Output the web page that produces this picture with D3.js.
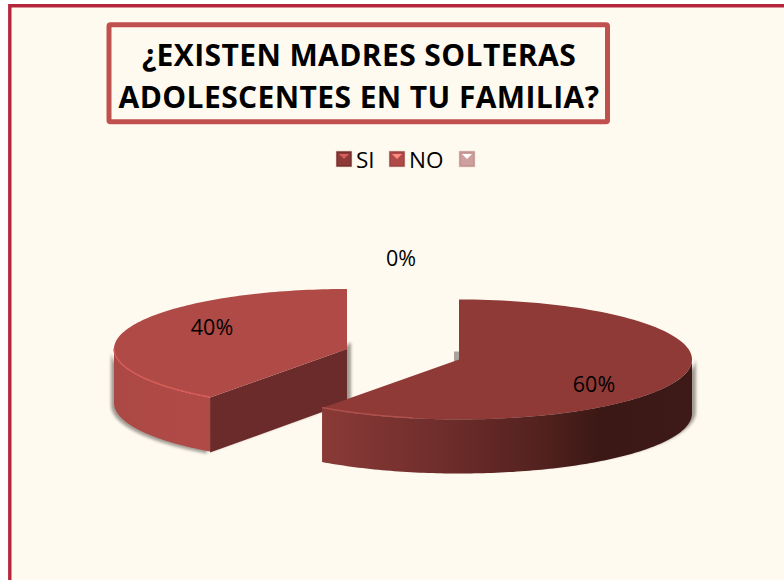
<!DOCTYPE html>
<html><head><meta charset="utf-8">
<script src="https://cdn.jsdelivr.net/npm/d3@7"></script>
<style>html,body{margin:0;padding:0;background:#fff}svg{display:block}</style>
</head><body><svg id="c" width="784" height="580"></svg>
<script>
const categories = ["SI", "NO", ""];
const values = [60, 40, 0];
const labels = ["60%", "40%", "0%"];
const titleLines = ["¿EXISTEN MADRES SOLTERAS", "ADOLESCENTES EN TU FAMILIA?"];

const svg = d3.select("#c");
const defs = svg.append("defs");
const BG = "#fffaf0";
svg.append("rect").attr("x",10).attr("y",6).attr("width",774).attr("height",574).attr("fill",BG);
svg.append("path").attr("d","M9.8,580V5.7H784").attr("fill","none").attr("stroke","#b5263a").attr("stroke-width",3.4);

// title
svg.append("rect").attr("x",109).attr("y",24.8).attr("width",498.5).attr("height",97).attr("rx",1.5)
  .attr("fill",BG).attr("stroke","#c0504d").attr("stroke-width",5);
svg.selectAll("text.title").data(titleLines).join("text").attr("class","title")
  .attr("x",359).attr("y",(d,i)=>i===0?65.5:107.5).attr("text-anchor","middle")
  .attr("font-family","'Open Sans',sans-serif").attr("font-weight",700).attr("font-size",30)
  .attr("letter-spacing",0.4).attr("fill","#000").text(d=>d);

// legend
const legendColors = ["#8f3a37","#b04a46","#cf9f9d"];
const legendEdge = ["#7a3230","#a04341","#c29391"];
const legendHi = ["#d8605c","#ff8a84","#ffffff"];
const legendX = [336,389,459];
const lg = svg.selectAll("g.lg").data(categories).join("g").attr("class","lg")
  .attr("transform",(d,i)=>`translate(${legendX[i]},151)`);
lg.append("rect").attr("width",16).attr("height",16).attr("fill",(d,i)=>legendEdge[i]).attr("stroke","#e8d6cc").attr("stroke-width",0.6);
lg.append("path").attr("d","M2,2H14V14H2Z").attr("fill",(d,i)=>legendColors[i]);
lg.append("path").attr("d","M3,3H13L8,8Z").attr("fill",(d,i)=>legendHi[i]);
lg.append("text").attr("x",20).attr("y",16.5).attr("font-family","'Open Sans',sans-serif").attr("font-size",22.5).attr("fill","#000").text(d=>d);

// pie
const pie = d3.pie().sort(null).value(d=>d);
const arcs = pie(values);
const rx = 233, ry = 60, depth = 54;
const centers = [[459,359.5],[347,349],[403,320]];
const sx = d3.scaleLinear().domain([-1,1]).range([-rx,rx]);
const sy = d3.scaleLinear().domain([-1,1]).range([-ry,ry]);
const pt = (a,c,dy=0)=>[c[0]+sx(Math.sin(a)), c[1]-sy(Math.cos(a))+dy];
const angles = (a0,a1,n=120)=>d3.range(n+1).map(i=>a0+(a1-a0)*i/n);
const line = d3.line();

const blur = defs.append("filter").attr("id","sh").attr("x","-10%").attr("y","-10%").attr("width","120%").attr("height","130%");
blur.append("feGaussianBlur").attr("stdDeviation",1.4);
const bl2 = defs.append("filter").attr("id","sf").attr("x","-10%").attr("y","-50%").attr("width","120%").attr("height","200%");
bl2.append("feGaussianBlur").attr("stdDeviation",0.6);

function grad(id,stops,x1,x2){
  const g = defs.append("linearGradient").attr("id",id).attr("gradientUnits","userSpaceOnUse")
    .attr("x1",x1).attr("x2",x2).attr("y1",0).attr("y2",0);
  stops.forEach(s=>g.append("stop").attr("offset",s[0]).attr("stop-color",s[1]));
}
grad("g0",[[0,"#8a3a37"],[0.35,"#6c2c2a"],[0.58,"#54221f"],[0.75,"#3b1815"],[1,"#3d1a17"]],322,692);
grad("g1",[[0,"#a84845"],[0.12,"#ad4945"],[1,"#b04a46"]],114,210);

// NO slice is drawn first, it sits behind the SI slice
const order = [1,0];
const sideFill = ["url(#g0)","url(#g1)"];
const topFill = ["#8f3a37","#b04a46"];
const rim = ["#b0504c","#d85a56"];
const shadowDx = [4,-3];

order.forEach(i=>{
  const d = arcs[i], c = centers[i];
  const a0 = Math.max(d.startAngle,Math.PI/2), a1 = Math.min(d.endAngle,1.5*Math.PI);
  const front = angles(a0,a1);
  const topEdge = front.map(a=>pt(a,c));
  const botEdge = front.map(a=>pt(a,c,depth)).reverse();
  svg.append("path").attr("d",line([...topEdge,...botEdge].map(p=>[p[0]+shadowDx[i],p[1]+(i?2:-2)]))+"Z")
    .attr("fill","#55504a").attr("opacity",0.55).attr("filter","url(#sh)");
  if(i===1){ // cut face of the NO slice
    const pe=pt(d.startAngle,c);
    svg.append("path").attr("d",line([[c[0]+4,c[1]-7],[c[0]+4,c[1]+depth-2],[pe[0],pe[1]+depth]])+"Z")
      .attr("fill","#55504a").attr("opacity",0.55).attr("filter","url(#sh)");
    svg.append("path").attr("d",line([c,[c[0],c[1]+depth],[pe[0],pe[1]+depth+1],pe])+"Z").attr("fill","#6b2b2a");
  } else {
    svg.append("path").attr("d",line([[c[0]-5,c[1]-8],[c[0],c[1]-8],[c[0],c[1]+2],[c[0]-5,c[1]+2]])+"Z")
      .attr("fill","#55504a").attr("opacity",0.5).attr("filter","url(#sf)");
  }
  svg.append("path").attr("d",line([...topEdge,...botEdge])+"Z").attr("fill",sideFill[i]);
  const top = [c,...angles(d.startAngle,d.endAngle).map(a=>pt(a,c))];
  svg.append("path").attr("d",line(top)+"Z").attr("fill",topFill[i]);
  const rimPts = angles(i===0?d.endAngle:Math.PI*1.5, i===0?Math.PI+0.2:d.startAngle).map(a=>{const p=pt(a,c);return [p[0],p[1]-0.5];});
  svg.append("path").attr("d",line(rimPts)).attr("fill","none").attr("stroke",rim[i]).attr("stroke-width",1.4).attr("filter","url(#sf)");
});

// data labels
const labelPos = [[594,392],[212,335],[401,266]];
svg.selectAll("text.dl").data(labels).join("text").attr("class","dl")
  .attr("x",(d,i)=>labelPos[i][0]).attr("y",(d,i)=>labelPos[i][1]).attr("text-anchor","middle")
  .attr("font-family","'Open Sans',sans-serif").attr("font-size",21.5).attr("fill","#000").text(d=>d);
</script></body></html>
